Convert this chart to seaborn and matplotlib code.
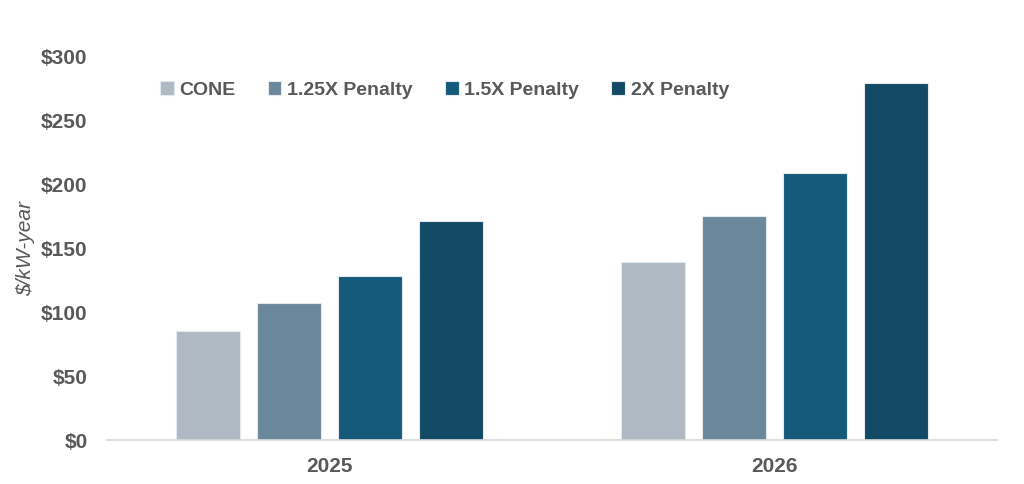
import pandas as pd
import matplotlib.pyplot as plt
import seaborn as sns

# data
years = ["2025", "2026"]
series = ["CONE", "1.25X Penalty", "1.5X Penalty", "2X Penalty"]
cone = [85, 139]
penalty_125 = [107, 175]
penalty_15 = [128, 209]
penalty_2 = [171, 279]
colors = ["#AFB9C4", "#6B879B", "#155A7A", "#124964"]

df = pd.DataFrame({
    "year": years * 4,
    "series": [s for s in series for _ in years],
    "value": cone + penalty_125 + penalty_15 + penalty_2,
})

sns.set_theme(style="white")
plt.rcParams["font.family"] = ["Liberation Sans", "DejaVu Sans"]
grey = "#595959"

fig = plt.figure(figsize=(10.24, 4.84), dpi=100)
ax = fig.add_axes([0.1045, 0.0909, 0.869, 0.793])

sns.barplot(data=df, x="year", y="value", hue="series", hue_order=series,
            palette=colors, saturation=1, width=0.728, gap=0.21,
            edgecolor="#E4E9EE", linewidth=0.8, ax=ax)

ax.set_ylim(0, 300)
ax.set_yticks(range(0, 301, 50))
ax.set_yticklabels([f"${v}" for v in range(0, 301, 50)])
ax.set_xlim(-0.5, 1.5)
ax.tick_params(axis="both", length=0, colors=grey, labelsize=15)
ax.tick_params(axis="y", pad=14)
ax.tick_params(axis="x", pad=12)
for lab in ax.get_xticklabels() + ax.get_yticklabels():
    lab.set_fontweight("bold")

ax.set_xlabel("")
ax.set_ylabel("$/kW-year", color=grey, fontsize=15, fontstyle="italic",
              labelpad=4)

for side in ["top", "right", "left"]:
    ax.spines[side].set_visible(False)
ax.spines["bottom"].set_color("#D9D9D9")
ax.spines["bottom"].set_linewidth(1.2)

leg = ax.legend(loc="center left", bbox_to_anchor=(0.04, 0.912), ncol=4,
                frameon=False, fontsize=14, handlelength=0.7, handleheight=0.7,
                handletextpad=0.3, columnspacing=1.65)
for t in leg.get_texts():
    t.set_color(grey)
    t.set_fontweight("bold")

fig.savefig("out.png", dpi=100)
